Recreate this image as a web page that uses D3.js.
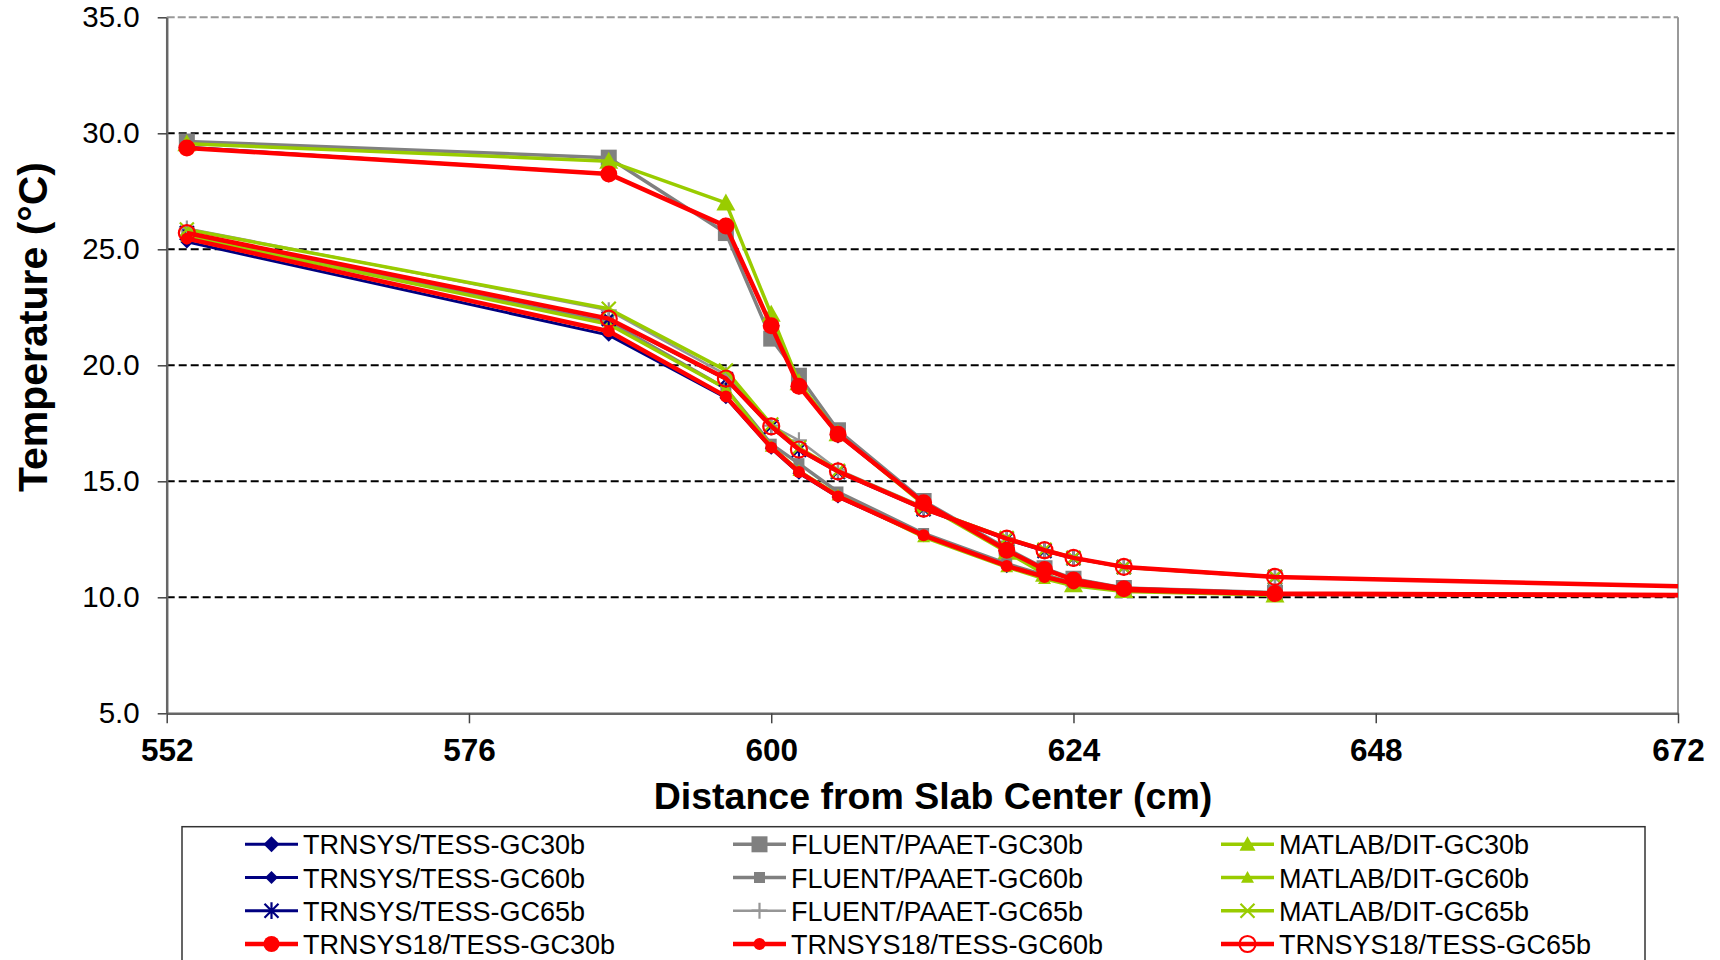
<!DOCTYPE html>
<html>
<head>
<meta charset="utf-8">
<script src="https://cdn.jsdelivr.net/npm/d3@7"></script>
<style>
  body { margin: 0; background: #fff; }
  svg { display: block; font-family: Arial, "Liberation Sans", sans-serif; }
</style>
</head>
<body>
<svg width="1720" height="960"></svg>
<script>
// distances (cm) of the output nodes
var xs = [553.6, 587.1, 596.4, 600, 602.2, 605.3, 612.1, 618.7, 621.7, 624, 628, 640]
// TRNSYS18 runs go on past the axis end
var xs18 = xs.concat([680])

var trnsys30 = [29.4, 28.25, 26.0, 21.7, 19.1, 17.0, 14.05, 12.0, 11.2, 10.75, 10.35, 10.15]
var fluent30 = [29.65, 28.95, 25.7, 21.15, 19.55, 17.2, 14.15, 12.1, 11.25, 10.8, 10.4, 10.2]
var matlab30 = [29.55, 28.8, 27.0, 22.2, 19.25, 17.05, 14.0, 11.95, 11.0, 10.55, 10.3, 10.1]
var trnsys60 = [25.32, 21.3, 18.6, 16.42, 15.35, 14.32, 12.65, 11.32, 10.85, 10.57, 10.33, 10.13]
var fluent60 = [25.6, 21.9, 19.0, 16.6, 15.76, 14.54, 12.75, 11.45, 10.95, 10.62, 10.38, 10.18]
var matlab60 = [25.55, 21.77, 19.0, 16.5, 15.45, 14.4, 12.6, 11.3, 10.8, 10.5, 10.25, 10.1]
var trnsys65 = [25.7, 22.0, 19.4, 17.35, 16.35, 15.4, 13.8, 12.5, 12.0, 11.68, 11.3, 10.87]
var fluent65 = [25.9, 22.37, 19.6, 17.4, 16.77, 15.5, 13.9, 12.55, 12.05, 11.72, 11.32, 10.9]
var matlab65 = [25.85, 22.44, 19.78, 17.45, 16.45, 15.45, 13.85, 12.55, 12.05, 11.7, 11.3, 10.88]
var trnsys18_30 = [29.37, 28.25, 26.0, 21.7, 19.1, 17.03, 14.08, 12.03, 11.2, 10.75, 10.37, 10.16, 10.09]
var trnsys18_60 = [25.46, 21.47, 18.66, 16.46, 15.4, 14.35, 12.67, 11.35, 10.88, 10.59, 10.32, 10.14, 10.08]
var trnsys18_65 = [25.7, 22.01, 19.43, 17.37, 16.37, 15.43, 13.82, 12.53, 12.03, 11.70, 11.31, 10.88, 10.37]

var yTicks = [5, 10, 15, 20, 25, 30, 35]
var xTicks = [552, 576, 600, 624, 648, 672]

// excel order: later ones drawn on top
var series = [
  {name: "TRNSYS/TESS-GC30b", x: xs, y: trnsys30, color: "#000080", mark: "diamond", size: 8.5, lw: 3},
  {name: "FLUENT/PAAET-GC30b", x: xs, y: fluent30, color: "#808080", mark: "square", size: 8, lw: 3.5},
  {name: "MATLAB/DIT-GC30b", x: xs, y: matlab30, color: "#99CC00", mark: "triangle", size: 9.5, lw: 3.5},
  {name: "TRNSYS/TESS-GC60b", x: xs, y: trnsys60, color: "#000080", mark: "diamond", size: 6.5, lw: 3},
  {name: "FLUENT/PAAET-GC60b", x: xs, y: fluent60, color: "#808080", mark: "square", size: 5.5, lw: 3.5},
  {name: "MATLAB/DIT-GC60b", x: xs, y: matlab60, color: "#99CC00", mark: "triangle", size: 6.5, lw: 3.5},
  {name: "TRNSYS/TESS-GC65b", x: xs, y: trnsys65, color: "#000080", mark: "asterisk", size: 7, lw: 3},
  {name: "FLUENT/PAAET-GC65b", x: xs, y: fluent65, color: "#969696", mark: "plus", size: 8, lw: 2.5},
  {name: "MATLAB/DIT-GC65b", x: xs, y: matlab65, color: "#99CC00", mark: "x", size: 7, lw: 3.5},
  {name: "TRNSYS18/TESS-GC30b", x: xs18, y: trnsys18_30, color: "#FF0000", mark: "circle", size: 8.5, lw: 4.5},
  {name: "TRNSYS18/TESS-GC60b", x: xs18, y: trnsys18_60, color: "#FF0000", mark: "circle", size: 6, lw: 4.5},
  {name: "TRNSYS18/TESS-GC65b", x: xs18, y: trnsys18_65, color: "#FF0000", mark: "ocircle", size: 8, lw: 4.5}
]

var svg = d3.select("svg")
var plotL = 166.7, plotR = 1678, plotT = 17.3, plotB = 713.3

var x = d3.scaleLinear().domain([552, 672]).range([plotL, plotR])
var y = d3.scaleLinear().domain([5, 35]).range([plotB, plotT])

function markPath(type, s) {
  if (type == "diamond") return "M0," + (-s) + "L" + s + ",0L0," + s + "L" + (-s) + ",0Z"
  if (type == "square") return "M" + (-s) + "," + (-s) + "H" + s + "V" + s + "H" + (-s) + "Z"
  if (type == "triangle") return "M0," + (-s) + "L" + s + "," + (s * 0.8) + "L" + (-s) + "," + (s * 0.8) + "Z"
  if (type == "circle" || type == "ocircle") return d3.arc()({innerRadius: 0, outerRadius: s, startAngle: 0, endAngle: 2 * Math.PI})
  if (type == "plus") return "M" + (-s) + ",0H" + s + "M0," + (-s) + "V" + s
  if (type == "x") return "M" + (-s) + "," + (-s) + "L" + s + "," + s + "M" + s + "," + (-s) + "L" + (-s) + "," + s
  if (type == "asterisk") return "M" + (-s) + "," + (-s) + "L" + s + "," + s + "M" + s + "," + (-s) + "L" + (-s) + "," + s + "M0," + (-s * 1.2) + "V" + (s * 1.2)
}
function drawMark(g, d, s) {
  var stroked = (d.mark == "plus" || d.mark == "x" || d.mark == "asterisk" || d.mark == "ocircle")
  g.append("path")
    .attr("d", markPath(d.mark, s))
    .attr("fill", stroked ? "none" : d.color)
    .attr("stroke", stroked ? d.color : "none")
    .attr("stroke-width", 2.2)
}

svg.append("defs").append("clipPath").attr("id", "plot")
  .append("rect").attr("x", plotL).attr("y", 0).attr("width", plotR - plotL).attr("height", plotB + 20)

// gridlines
svg.append("g").selectAll("line").data(yTicks.filter(function(v){ return v > 5 && v < 35 }))
  .enter().append("line")
  .attr("x1", plotL).attr("x2", plotR)
  .attr("y1", function(d){ return y(d) }).attr("y2", function(d){ return y(d) })
  .attr("stroke", "#000").attr("stroke-width", 2).attr("stroke-dasharray", "8,4")

// plot area border
svg.append("line").attr("x1", plotL).attr("x2", plotR).attr("y1", y(35)).attr("y2", y(35))
  .attr("stroke", "#999").attr("stroke-width", 2).attr("stroke-dasharray", "8,3")
svg.append("line").attr("x1", plotR).attr("x2", plotR).attr("y1", plotT).attr("y2", plotB)
  .attr("stroke", "#999").attr("stroke-width", 2)

// series
var plot = svg.append("g").attr("clip-path", "url(#plot)")
var line = d3.line().x(function(p){ return x(p[0]) }).y(function(p){ return y(p[1]) })

series.forEach(function(s) {
  var pts = d3.zip(s.x, s.y)
  plot.append("path").datum(pts)
    .attr("d", line).attr("fill", "none")
    .attr("stroke", s.color).attr("stroke-width", s.lw).attr("stroke-linejoin", "round")
  plot.selectAll(null).data(pts).enter().append("g")
    .attr("transform", function(p){ return "translate(" + x(p[0]) + "," + y(p[1]) + ")" })
    .each(function(){ drawMark(d3.select(this), s, s.size) })
})

// axes
var yAxis = d3.axisLeft(y).tickValues(yTicks).tickFormat(d3.format(".1f")).tickSize(9).tickSizeOuter(0).tickPadding(18)
var gy = svg.append("g").attr("transform", "translate(" + plotL + ",0)").call(yAxis)
gy.selectAll("text").attr("font-size", 29.5).attr("font-family", "Arial, 'Liberation Sans', sans-serif").attr("fill", "#000")

var xAxis = d3.axisBottom(x).tickValues(xTicks).tickFormat(d3.format("d")).tickSize(10).tickSizeOuter(0).tickPadding(15)
var gx = svg.append("g").attr("transform", "translate(0," + plotB + ")").call(xAxis)
gx.selectAll("text").attr("font-size", 31.5).attr("font-weight", "bold").attr("font-family", "Arial, 'Liberation Sans', sans-serif").attr("fill", "#000")

svg.selectAll(".domain").attr("stroke", "#666").attr("stroke-width", 2.5)
svg.selectAll(".tick line").attr("stroke", "#444").attr("stroke-width", 1.5)

// titles
svg.append("text")
  .attr("transform", "translate(47,327) rotate(-90)")
  .attr("text-anchor", "middle")
  .attr("font-size", 41).attr("font-weight", "bold")
  .text("Temperature (°C)")

svg.append("text")
  .attr("x", 933).attr("y", 809)
  .attr("text-anchor", "middle")
  .attr("font-size", 37.5).attr("font-weight", "bold")
  .text("Distance from Slab Center (cm)")

// legend
var legend = svg.append("g")
legend.append("rect").attr("x", 182).attr("y", 826.7).attr("width", 1463).attr("height", 200)
  .attr("fill", "#fff").attr("stroke", "#333").attr("stroke-width", 1.5)

var rowY = [844.3, 877.5, 910.7, 944]
series.forEach(function(s, i) {
  var col = i % 3, row = Math.floor(i / 3)
  var lx = 245 + col * 488, ly = rowY[row]
  var g = legend.append("g")
  g.append("line").attr("x1", lx).attr("x2", lx + 53).attr("y1", ly).attr("y2", ly)
    .attr("stroke", s.color).attr("stroke-width", s.lw)
  var m = g.append("g").attr("transform", "translate(" + (lx + 26.5) + "," + ly + ")")
  drawMark(m, s, Math.min(s.size, 8))
  g.append("text").attr("x", lx + 58).attr("y", ly + 10)
    .attr("font-size", 27).text(s.name)
})
</script>
</body>
</html>
